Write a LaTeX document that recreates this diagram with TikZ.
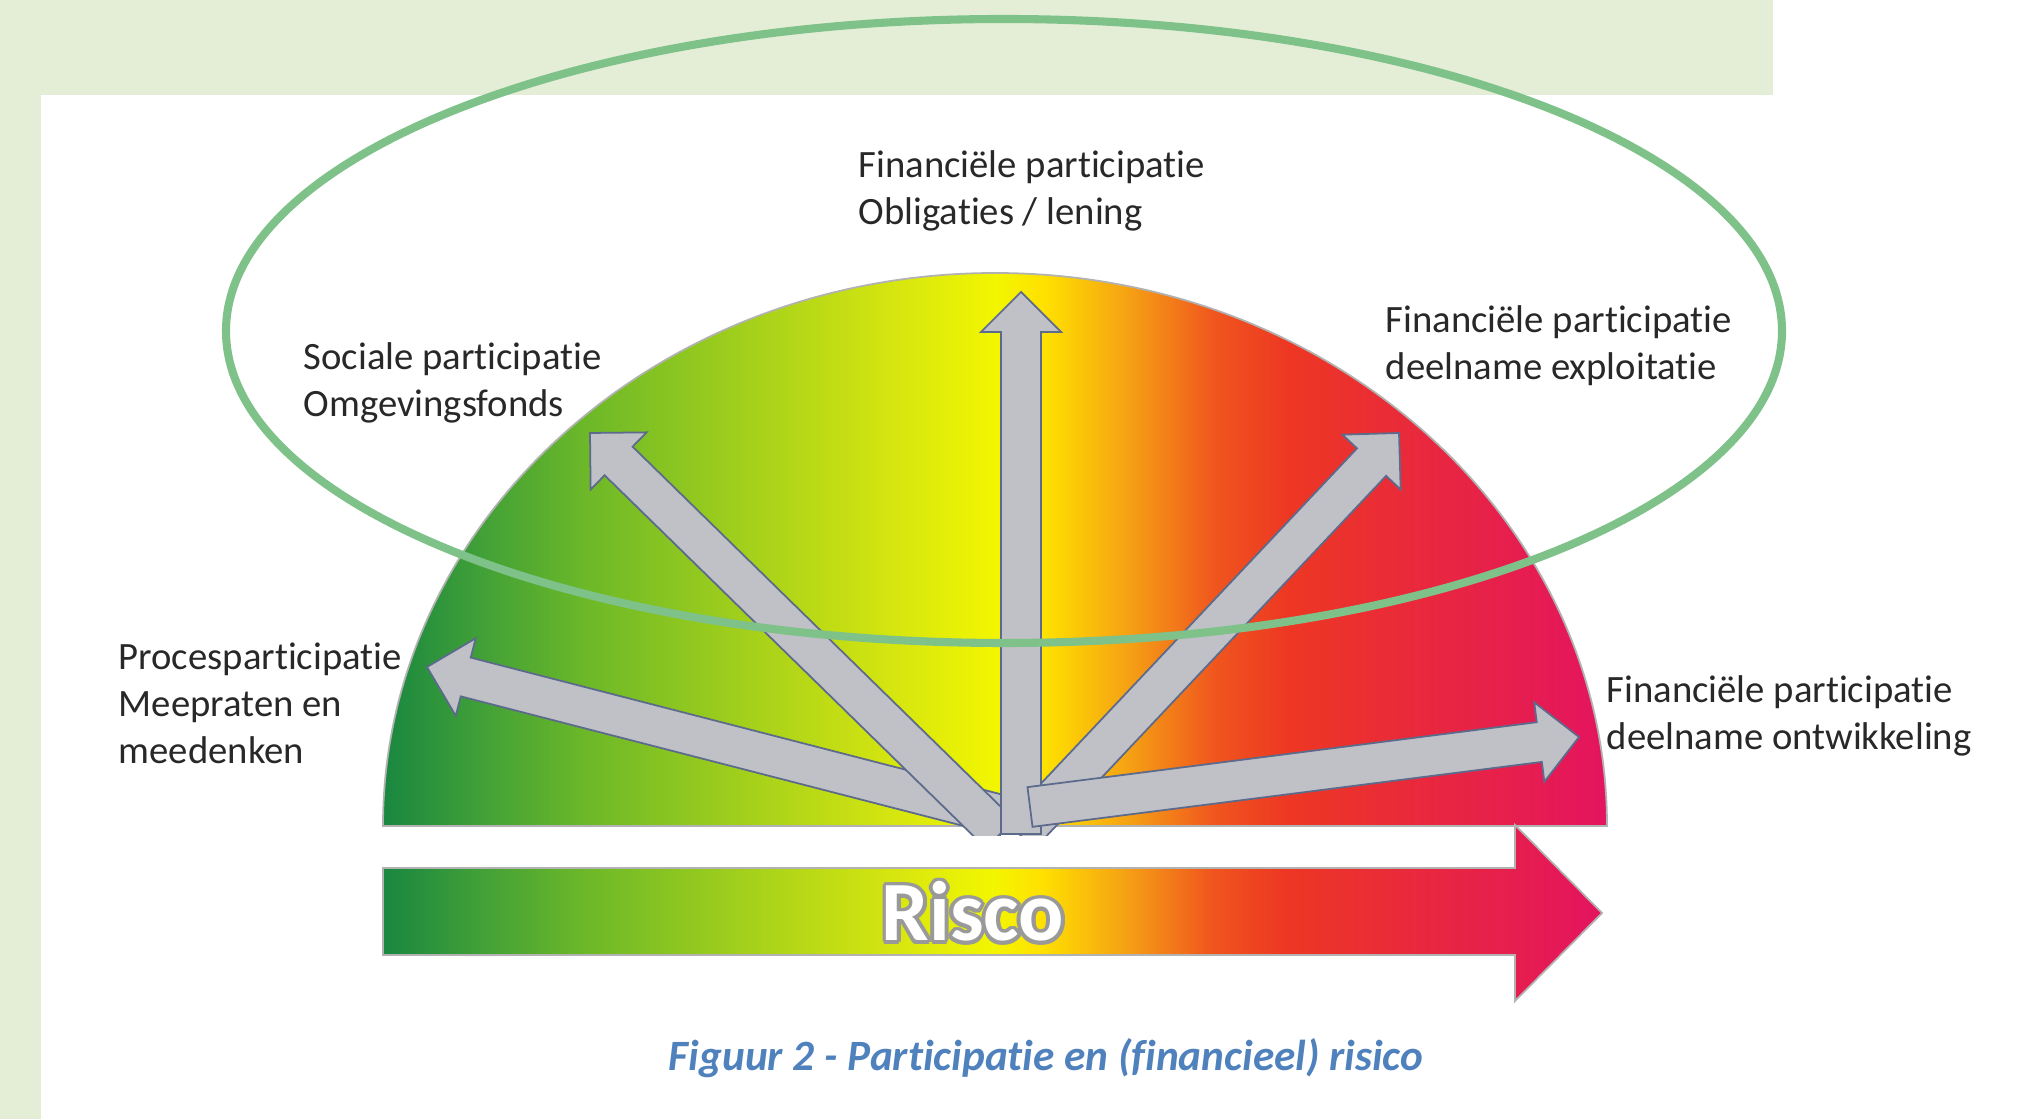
\documentclass[tikz,border=0pt]{standalone}
\usepackage{fontspec}
\setmainfont{Carlito}[Ligatures={NoCommon}]
\usetikzlibrary{calc}

\definecolor{bggreen}{RGB}{228,238,215}
\definecolor{ringgreen}{RGB}{126,194,137}
\definecolor{arrowgray}{RGB}{192,192,199}
\definecolor{arrowedge}{RGB}{92,106,140}
\definecolor{capblue}{RGB}{79,129,189}
\definecolor{labelgray}{RGB}{40,40,40}
\definecolor{riskA}{RGB}{25,135,65}
\definecolor{riskB}{RGB}{65,160,55}
\definecolor{riskC}{RGB}{110,185,40}
\definecolor{riskD}{RGB}{215,230,15}
\definecolor{riskE}{RGB}{242,246,0}
\definecolor{riskF}{RGB}{255,225,0}
\definecolor{riskG}{RGB}{245,160,20}
\definecolor{riskH}{RGB}{240,85,30}
\definecolor{riskI}{RGB}{237,55,35}
\definecolor{riskJ}{RGB}{232,38,65}
\definecolor{riskK}{RGB}{228,20,95}

\pgfdeclarehorizontalshading{riskshade}{100bp}{color(0bp)=(riskA); color(25bp)=(riskA);
	color(29bp)=(riskB); color(33.5bp)=(riskC); color(46bp)=(riskD); color(50bp)=(riskE);
	color(52bp)=(riskF); color(55.5bp)=(riskG); color(59bp)=(riskH); color(62bp)=(riskI);
	color(68.25bp)=(riskJ); color(75bp)=(riskK); color(100bp)=(riskK)}

\tikzset{
	lbl/.style={anchor=base west,inner sep=0pt,align=left,text=labelgray,
		font=\fontsize{11}{13.4}\selectfont},
	grayarrow/.style={fill=arrowgray,draw=arrowedge,line width=0.5pt,line join=miter},
	riscotext/.style={inner sep=0pt,anchor=base,font=\fontsize{24}{24}\selectfont\bfseries}
}

\begin{document}
\begin{tikzpicture}[x=0.01cm,y=-0.01cm]
	\useasboundingbox (0,0) rectangle (2023,1119);
	\fill[white] (0,0) rectangle (2023,1119);
	\fill[bggreen] (0,0) rectangle (1773,95);
	\fill[bggreen] (0,0) rectangle (41,1119);

	% half disc and risk arrow
	\path[shading=riskshade,draw=gray!60,line width=0.5pt]
		(383,826) arc[start angle=180,end angle=360,x radius=612,y radius=553] -- cycle;
	\path[shading=riskshade,draw=gray!60,line width=0.5pt]
		(383,868) -- (1515,868) -- (1515,825) -- (1602,913) -- (1515,1001) -- (1515,955) -- (383,955) -- cycle;

	\coordinate (riscoPos) at (973,941);
	\foreach \a in {0,30,...,330}
		\node[riscotext,text=gray!80] at ($(riscoPos)+(\a:1.1pt)$) {Risco};
	\node[riscotext,text=white] (risco) at (riscoPos) {Risco};

	% gray arrows
	\coordinate (sL) at (1005,816);  \coordinate (tL) at (427,667);
	\coordinate (sUL) at (1000,834); \coordinate (tUL) at (590,433);
	\coordinate (sUR) at (1020,835); \coordinate (tUR) at (1399,433);
	\coordinate (sV) at (1021,834);  \coordinate (tV) at (1021,292);
	\coordinate (sR) at (1030,807);  \coordinate (tR) at (1579,737);
	\begin{scope}
		\clip (0,0) rectangle (2023,836);
		\foreach \s/\t in {sL/tL,sUL/tUL,sUR/tUR,sV/tV,sR/tR}{
			\coordinate (h) at ($(\t)!0.4cm!(\s)$);
			\filldraw[grayarrow] ($(\s)!0.2cm!90:(\t)$) -- ($(h)!0.2cm!90:(\t)$) -- ($(h)!0.4cm!90:(\t)$)
				-- (\t) -- ($(h)!0.4cm!-90:(\t)$) -- ($(h)!0.2cm!-90:(\t)$) -- ($(\s)!0.2cm!-90:(\t)$) -- cycle;
		}
	\end{scope}

	% labels (base = last line)
	\node[lbl] (lblTop) at (858,225) {Financiële participatie\\Obligaties / lening};
	\node[lbl] (lblSoc) at (303,417) {Sociale participatie\\Omgevingsfonds};
	\node[lbl] (lblProc) at (118,764) {Procesparticipatie\\Meepraten en\\meedenken};
	\node[lbl] (lblExpl) at (1385,380) {Financiële participatie\\deelname exploitatie};
	\node[lbl] (lblOntw) at (1606,750) {Financiële participatie\\deelname ontwikkeling};

	\draw[ringgreen,line width=2.3pt] (1004,331) ellipse [x radius=778,y radius=312];

	\node[anchor=base,inner sep=0pt,text=capblue,font=\fontsize{12.3}{14}\selectfont\bfseries\itshape]
		(caption) at (1046,1071) {Figuur 2 - Participatie en (financieel) risico};
\end{tikzpicture}
\end{document}
